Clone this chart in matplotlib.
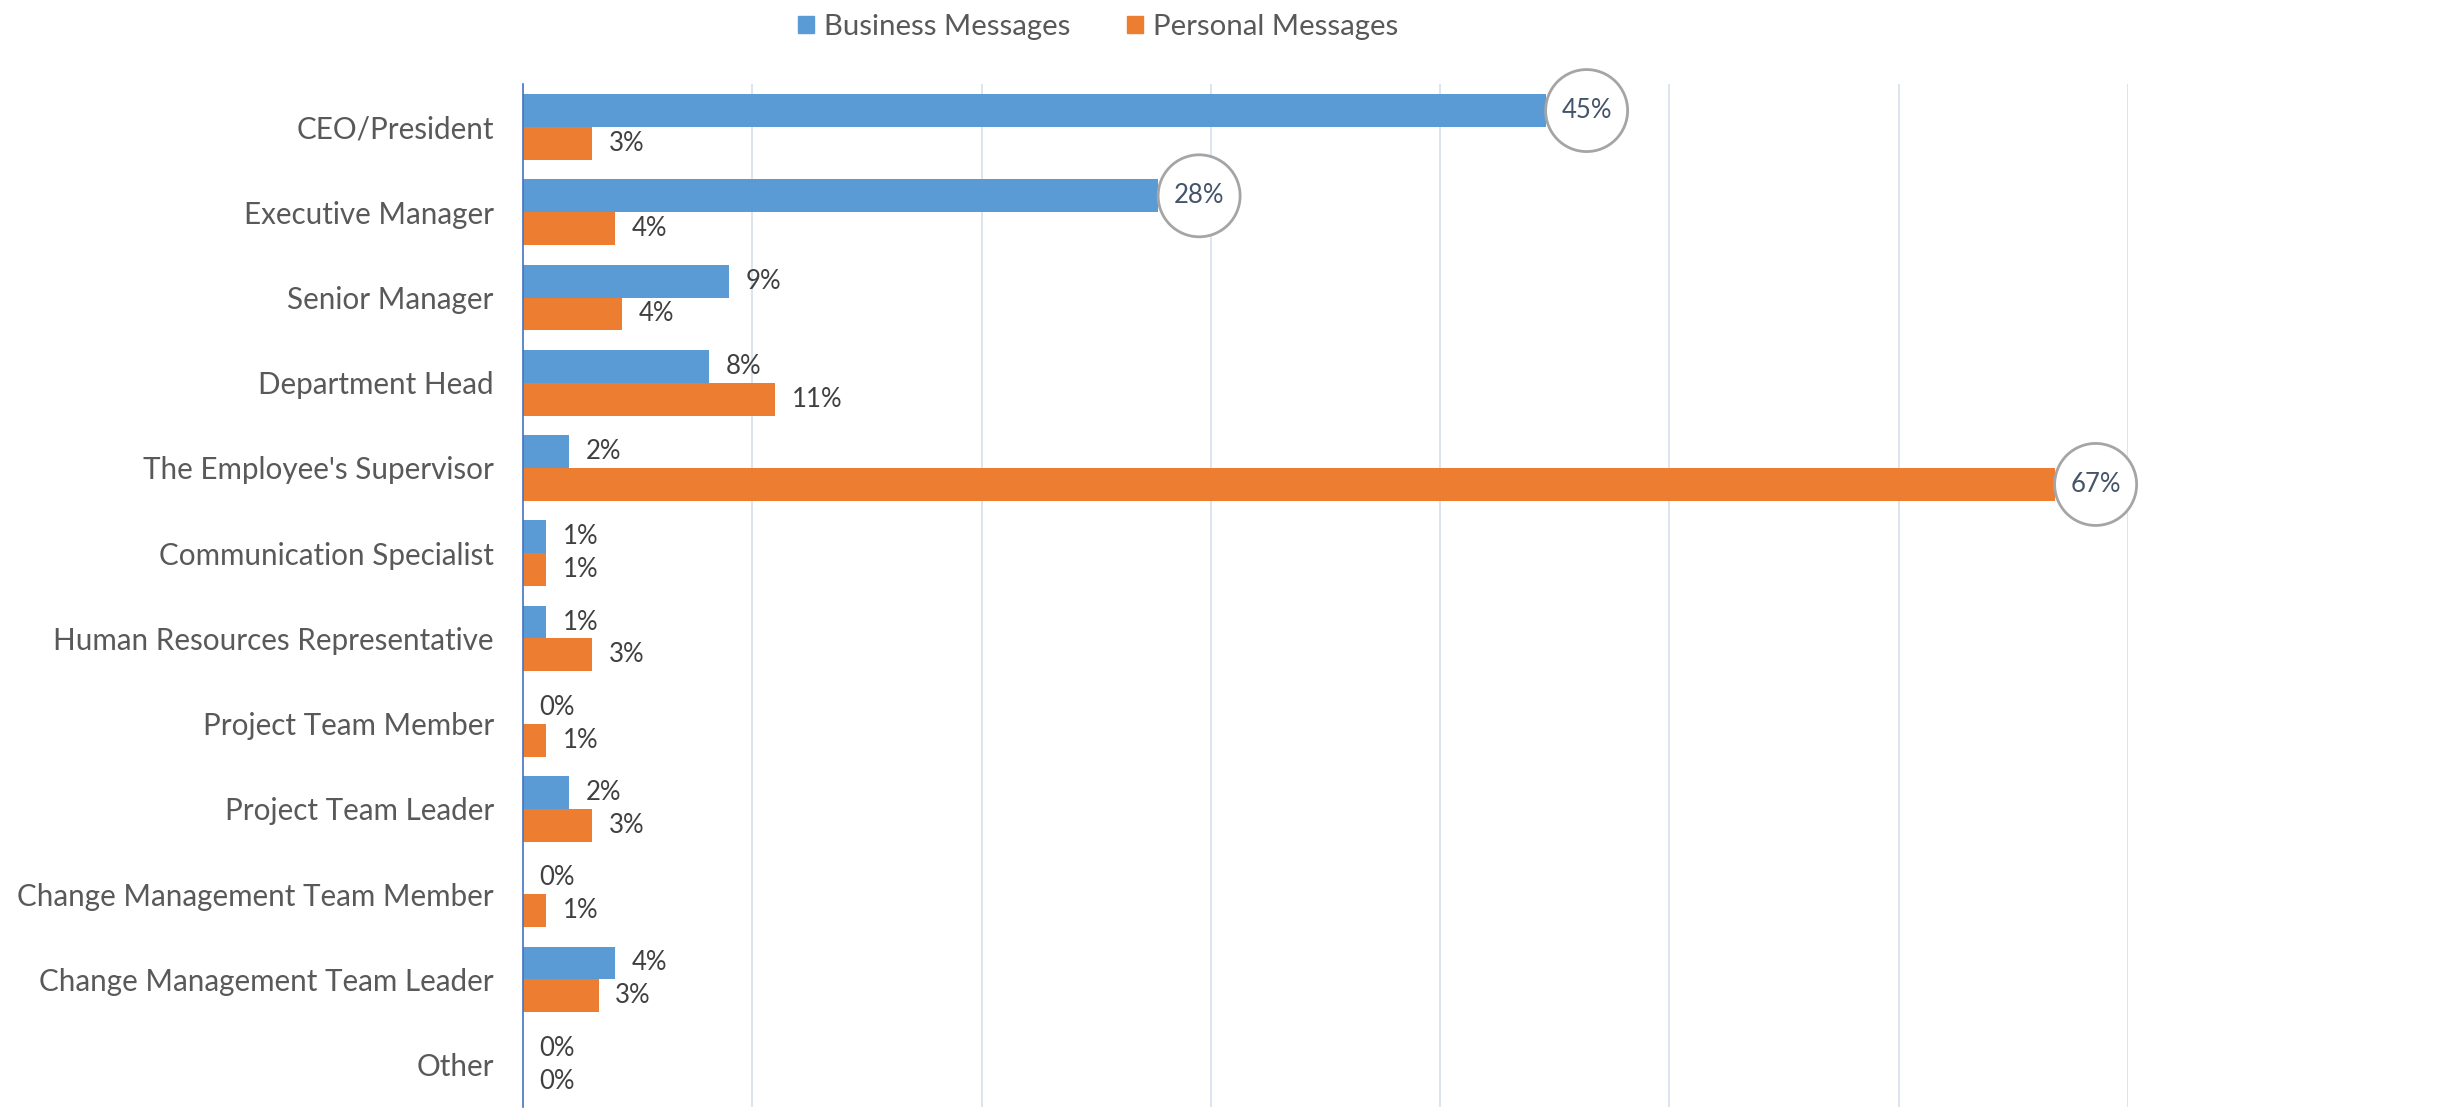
import numpy as np
import matplotlib.pyplot as plt
import matplotlib.transforms as mtransforms
from matplotlib.patches import Ellipse, Patch

plt.rcParams['font.family'] = ['Lato', 'DejaVu Sans']

categories = ['CEO/President', 'Executive Manager', 'Senior Manager', 'Department Head',
              "The Employee's Supervisor", 'Communication Specialist',
              'Human Resources Representative', 'Project Team Member', 'Project Team Leader',
              'Change Management Team Member', 'Change Management Team Leader', 'Other']
business = [44.6, 27.7, 9.0, 8.1, 2.0, 1.0, 1.0, 0.0, 2.0, 0.0, 4.0, 0.0]
personal = [3.0, 4.0, 4.3, 11.0, 66.8, 1.0, 3.0, 1.0, 3.0, 1.0, 3.3, 0.0]
circled_business = [0, 1]
circled_personal = [4]

BLUE = '#5B9BD5'
ORANGE = '#ED7D31'
TEXT = '#595959'

fig = plt.figure(figsize=(24.59, 11.10), dpi=100)
ax = fig.add_axes([523 / 2459, 2.7 / 1110, (2128 - 523) / 2459, 1022.9 / 1110])

y = np.arange(len(categories))
h = 0.386
ax.barh(y - h / 2, business, height=h, color=BLUE, zorder=3)
ax.barh(y + h / 2, personal, height=h, color=ORANGE, zorder=3)

ax.set_xlim(0, 70)
ax.set_ylim(len(categories) - 0.5, -0.5)
ax.set_yticks(y)
ax.set_yticklabels(categories, fontsize=21.3, color=TEXT)
ax.tick_params(axis='y', length=0, pad=21)
ax.set_xticks(np.arange(10, 71, 10))
ax.tick_params(axis='x', length=0, labelbottom=False)
ax.grid(axis='x', color='#D6DFEE', linewidth=1.2, zorder=0)
for s in ['top', 'right', 'bottom']:
    ax.spines[s].set_visible(False)
ax.spines['left'].set_color('#4472C4')
ax.spines['left'].set_linewidth(1.2)
ax.spines['left'].set_zorder(4)


def label(vals, offset, circled):
    for i, v in enumerate(vals):
        yy = y[i] + offset
        txt = f'{round(v)}%'
        if i in circled:
            tr = fig.dpi_scale_trans + mtransforms.ScaledTranslation(v, yy, ax.transData)
            ax.add_patch(Ellipse((0.41, 0), 0.82, 0.82, transform=tr, facecolor='white',
                                 edgecolor='#A5A5A5', linewidth=2, zorder=5, clip_on=False))
            ax.annotate(txt, (v, yy), xytext=(29.5, 0), textcoords='offset points',
                        ha='center', va='center', fontsize=18.5, color='#44546A', zorder=6)
        else:
            ax.annotate(txt, (v, yy), xytext=(12, 0), textcoords='offset points',
                        ha='left', va='center', fontsize=18.5, color='#404040', zorder=6)


label(business, -h / 2, circled_business)
label(personal, h / 2, circled_personal)

handles = [Patch(color=BLUE, label='Business Messages'),
           Patch(color=ORANGE, label='Personal Messages')]
fig.legend(handles=handles, loc='center', bbox_to_anchor=(1098 / 2459, 1 - 27 / 1110),
           ncol=2, frameon=False, fontsize=21.2, labelcolor=TEXT, handlelength=0.55,
           handleheight=0.55, handletextpad=0.35, columnspacing=1.9)

fig.savefig('out.png', dpi=100)
